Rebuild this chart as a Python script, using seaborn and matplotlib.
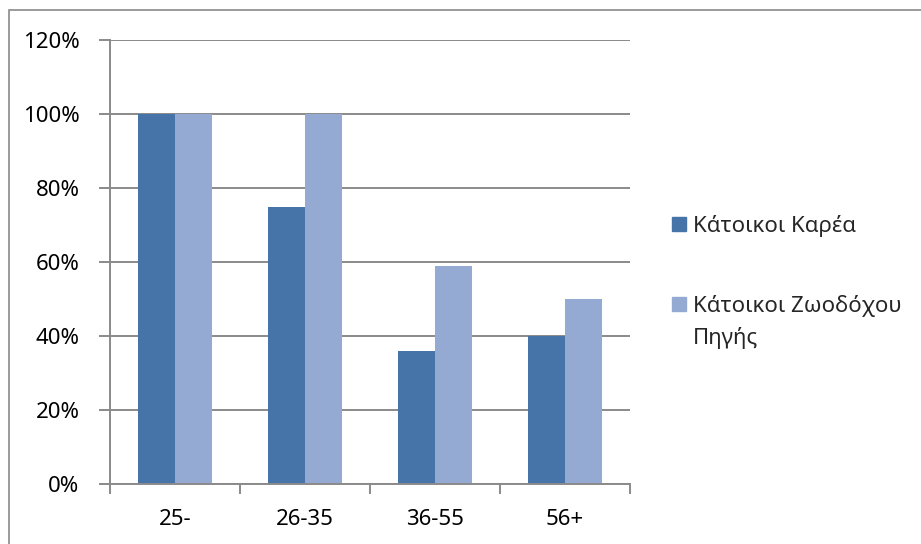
import textwrap

import numpy as np
import pandas as pd
import matplotlib.pyplot as plt
import matplotlib.patches as mpatches
from matplotlib.ticker import FixedLocator, PercentFormatter
import seaborn as sns

# Data
age_groups = ["25-", "26-35", "36-55", "56+"]
series_names = ["Κάτοικοι Καρέα", "Κάτοικοι Ζωοδόχου Πηγής"]
karea = [100, 75, 36, 40]
zoodochou = [100, 100, 59, 50]
colors = ["#4673A8", "#95AAD3"]

df = pd.DataFrame({
    "group": age_groups * 2,
    "series": [series_names[0]] * 4 + [series_names[1]] * 4,
    "value": karea + zoodochou,
})

sns.set_theme(style="white")
plt.rcParams["font.family"] = ["Noto Sans", "DejaVu Sans"]
FS = 16
grey = "#8a8a8a"

fig = plt.figure(figsize=(9.21, 5.44), dpi=100)
ax = fig.add_axes([110 / 921, 1 - 484 / 544, 520 / 921, 444 / 544])

sns.barplot(data=df, x="group", y="value", hue="series", order=age_groups,
            hue_order=series_names, palette=colors, width=0.57,
            linewidth=0, saturation=1, ax=ax, legend=False)

ax.set_ylim(0, 120)
ax.set_xlim(-0.5, len(age_groups) - 0.5)
ax.set_yticks(np.arange(0, 121, 20))
ax.yaxis.set_major_formatter(PercentFormatter(decimals=0))
ax.yaxis.grid(True, color=grey, linewidth=1.4)
ax.set_axisbelow(True)
ax.set_xlabel("")
ax.set_ylabel("")

for side in ["top", "right"]:
    ax.spines[side].set_visible(False)
for side in ["left", "bottom"]:
    ax.spines[side].set_color(grey)
    ax.spines[side].set_linewidth(1.4)

# category separators as tick marks on the x axis
ax.xaxis.set_minor_locator(FixedLocator(np.arange(-0.5, len(age_groups), 1.0)))
ax.tick_params(axis="x", which="major", bottom=False, pad=12, labelsize=FS,
               labelcolor="black")
ax.tick_params(axis="x", which="minor", bottom=True, length=7, width=1.4,
               color=grey, direction="out")
ax.tick_params(axis="y", which="major", left=True, length=8, width=1.4,
               color=grey, direction="out", pad=14, labelsize=FS,
               labelcolor="black")

# legend: square marker + label, wrapped like the original
legend_x = 672 / 921
text_x = 693 / 921
legend_y = [224 / 544, 304 / 544]
sq_w, sq_h = 14 / 921, 14 / 544
for c, n, y in zip(colors, series_names, legend_y):
    yf = 1 - y
    fig.add_artist(mpatches.Rectangle((legend_x, yf - sq_h / 2), sq_w, sq_h,
                                      transform=fig.transFigure, color=c))
    fig.text(text_x, yf + 0.016, textwrap.fill(n, 18), fontsize=FS,
             va="top", ha="left", linespacing=1.6)

# outer chart border (right and bottom edges fall outside the image)
fig.add_artist(mpatches.Rectangle((8.5 / 921, -0.05), 1.0, 1.05 - 10 / 544,
                                  transform=fig.transFigure, fill=False,
                                  edgecolor=grey, linewidth=1.2))

fig.savefig("out.png", dpi=100)
